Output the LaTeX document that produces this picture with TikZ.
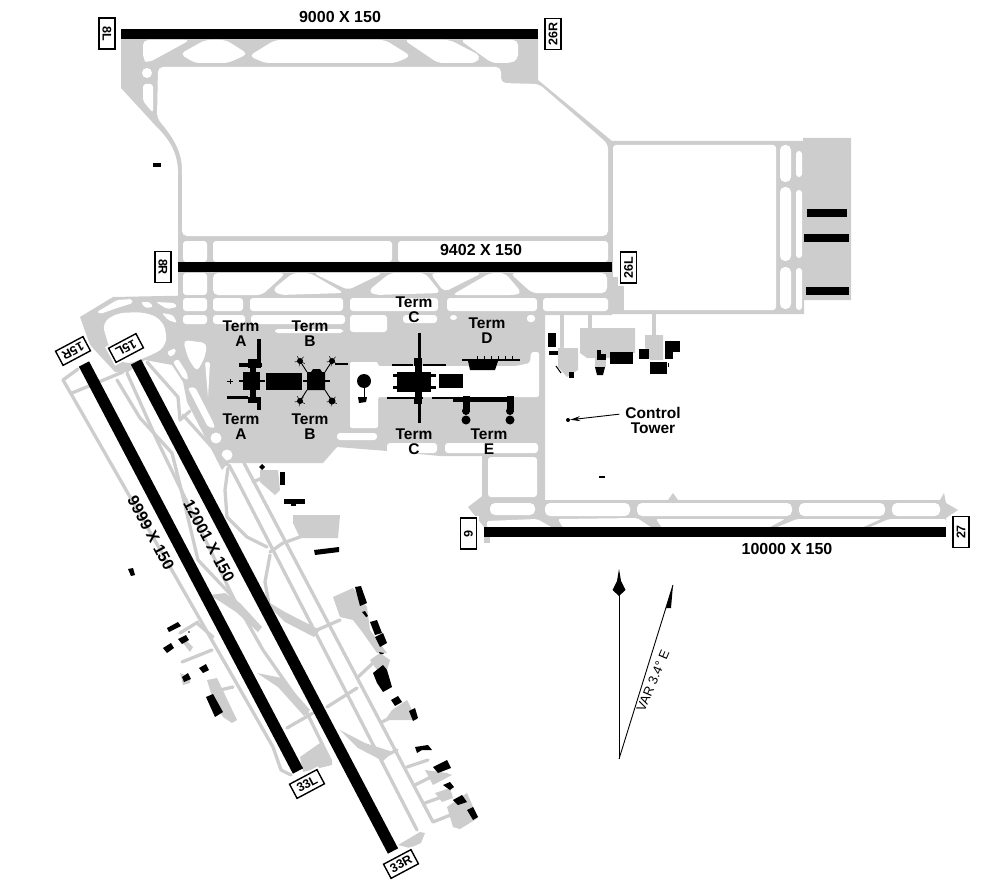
\documentclass[tikz,border=0pt]{standalone}
\usepackage{fontspec}
\usetikzlibrary{arrows.meta}
\setmainfont{Liberation Sans}
\definecolor{taxigray}{RGB}{205,205,205}
\tikzset{
  taxi/.style={fill=taxigray},
  taxiway/.style={draw=taxigray,line width=3.3pt,line join=round,line cap=round},
  hole/.style={fill=white,rounded corners=5pt},
  runway/.style={draw=black,line width=11.5pt},
  bldg/.style={fill=black},
  rwtag/.style={draw=black,fill=white,line width=1.4pt,inner sep=0pt,minimum width=31pt,minimum height=16pt,
    font=\fontsize{12.5}{12.5}\selectfont\bfseries,preaction={draw=white,line width=5pt}},
  rwlen/.style={font=\fontsize{16}{16}\selectfont\bfseries,inner sep=0pt},
  termlabel/.style={font=\fontsize{15.5}{15}\selectfont\bfseries,align=center,inner sep=0pt}
}
\begin{document}
\begin{tikzpicture}[x=1pt,y=-1pt]
\useasboundingbox (0,0) rectangle (993,896);

% north field
\fill[taxi] (121,39) -- (538,39) -- (538,80) -- (612,141) -- (612,315) -- (178,315) -- (178,170)
  .. controls (177,150) and (168,138) .. (155,125) -- (121,88) -- cycle;
\fill[white] (147,73) circle (5);
\fill[hole] (158,67) -- (501,67) -- (501,83) -- (539,84) -- (608,144) -- (608,236) -- (182,236) -- (182,170)
  .. controls (181,150) and (172,136) .. (157,118) -- cycle;
\fill[hole] (143,40) -- (190,40) -- (148,63) -- (143,60) -- cycle;
\fill[hole] (180,54) -- (205,40) -- (226,40) -- (248,54) -- (228,63) -- (195,63) -- cycle;
\fill[hole] (249,56) -- (275,40) -- (385,40) -- (411,56) -- (395,63) -- (265,63) -- cycle;
\fill[hole] (404,40) -- (450,40) -- (481,56) -- (476,63) -- (438,63) -- cycle;
\fill[hole] (460,40) -- (518,40) -- (518,60) -- (510,63) -- (492,63) -- cycle;
\fill[hole,rounded corners=3pt] (143,84) -- (153,84) -- (153,113) -- (143,101) -- cycle;

% rows round 8R-26L
\foreach \xa/\ya/\xb/\yb in {183/241/207/262, 213/241/392/262, 398/241/608/262, 183/273/207/295}
  \fill[hole,rounded corners=3pt] (\xa,\ya) rectangle (\xb,\yb);
\fill[hole] (213,273) -- (286,273) -- (262,295) -- (213,295) -- cycle;
\fill[hole] (272,290) -- (293,273) -- (310,273) -- (344,293) -- (280,295) -- cycle;
\fill[hole] (313,273) -- (383,273) -- (348,290) -- cycle;
\fill[hole] (368,291) -- (390,273) -- (425,273) -- (441,293) -- (375,295) -- cycle;
\fill[hole] (430,273) -- (482,273) -- (444,292) -- cycle;
\fill[hole] (452,295) -- (490,273) -- (505,273) -- (522,293) -- (515,295) -- cycle;
\fill[hole] (510,273) -- (607,273) -- (607,293) -- (532,293) -- cycle;

% central apron
\fill[taxi] (210,296) -- (545,296) -- (545,500) -- (482,500) -- (482,456) -- (440,456) -- (387,451) -- (337,447)
  -- (323,463) -- (226,463) -- (210,335) -- cycle;
\fill[hole,rounded corners=2pt] (350,362) -- (378,362) -- (378,366) -- (516,366) -- (530,363) -- (531,352) -- (539,352)
  -- (539,397) -- (378,397) -- (378,428) -- (350,428) -- cycle;
\foreach \xa/\ya/\xb/\yb in {337/433/377/440, 387/443/437/453, 445/443/538/453, 488/457/537/497}
  \fill[hole,rounded corners=3pt] (\xa,\ya) rectangle (\xb,\yb);

% east field
\fill[taxi] (612,141) -- (803,141) -- (803,138) -- (851,138) -- (851,300) -- (804,300) -- (804,314) -- (612,314) -- cycle;
\fill[hole,rounded corners=3pt] (613,145) rectangle (776,310);
\foreach \xa/\ya/\xb/\yb in {780/145/791/182, 780/187/791/261, 780/267/791/309}
  \fill[hole] (\xa,\ya) rectangle (\xb,\yb);
\foreach \xa/\ya/\xb/\yb in {796/151/802/177, 796/190/802/258, 796/268/802/310}
  \fill[hole,rounded corners=3pt] (\xa,\ya) rectangle (\xb,\yb);
\fill[taxi] (608,277) rectangle (624,312);

% runway 6-27 parallel
\fill[taxi] (468,507) -- (485,494) -- (490,500) -- (668,500) -- (673,493) -- (678,500) -- (940,500) -- (944,493) -- (946,503)
  -- (958,510) -- (946,518) -- (946,527) -- (484,527) -- cycle;
\foreach \xa/\ya/\xb/\yb in {490/503/535/515, 545/503/630/516, 637/503/792/516, 799/503/885/516, 892/503/940/516}
  \fill[hole] (\xa,\ya) rectangle (\xb,\yb);
\fill[hole,rounded corners=2pt] (487,521) -- (537,519) -- (553,528) -- (487,528) -- cycle;
\fill[hole,rounded corners=2pt] (558,519) -- (637,518) -- (652,528) -- (563,528) -- cycle;
\fill[hole,rounded corners=2pt] (656,519) -- (785,519) -- (768,528) -- (662,528) -- cycle;
\fill[hole,rounded corners=2pt] (775,528) -- (797,519) -- (881,519) -- (861,528) -- cycle;
\fill[hole,rounded corners=2pt] (868,528) -- (889,519) -- (946,519) -- (946,528) -- cycle;
\fill[taxi] (484,537) rectangle (490,543);

% north east stubs and aprons
\foreach \xa/\ya/\xb/\yb in {562/312/562/347, 590/312/590/328, 654/312/654/335}
  \draw[taxiway] (\xa,\ya) -- (\xb,\yb);
\fill[taxi] (580,328) -- (635,328) -- (635,353) -- (610,353) -- (610,358) -- (587,358) -- (580,353) -- cycle;
\fill[taxi] (645,335) -- (663,335) -- (663,360) -- (650,360) -- (645,347) -- cycle;
\fill[taxi] (558,348) -- (578,348) -- (578,370) -- (567,377) -- (558,367) -- cycle;
\fill[taxi] (595,358) rectangle (606,367);

% corner north of 15L
\fill[taxi] (80,317) -- (113,297) -- (215,295) -- (228,463) -- (222,470) -- (187,402) -- (183,382) -- (172,365)
  -- (145,360) -- (128,372) -- (115,372) -- (90,345) -- cycle;
\foreach \xa/\ya/\xb/\yb in {183/298/207/311, 213/298/243/311, 250/298/343/311, 350/298/438/311, 447/298/537/311, 543/298/608/311,
    183/315/207/324, 213/315/245/324, 251/315/345/324, 350/315/387/332, 403/315/437/323,
    450/315/457/320, 527/315/535/322, 275/329/343/333}
  \fill[hole,rounded corners=3pt] (\xa,\ya) rectangle (\xb,\yb);
\fill[hole,rounded corners=2pt] (97,312) -- (117,300) -- (132,299) -- (133,303) -- (117,308) -- (100,314) -- cycle;
\fill[hole,rounded corners=2pt] (141,302) -- (150,302) -- (153,307) -- (145,308) -- cycle;
\fill[hole,rounded corners=2pt] (156,302) -- (175,303) -- (177,307) -- (167,309) -- cycle;
\fill[hole,rounded corners=8pt] (102,323) -- (117,313) -- (143,312) -- (160,318) -- (167,332) -- (165,348) -- (147,357) -- (125,365) -- (110,350) -- cycle;
\fill[hole,rounded corners=2pt] (162,313) -- (173,315) -- (177,323) -- (168,320) -- cycle;
\fill[hole,rounded corners=2pt] (167,352) -- (175,348) -- (176,353) -- (170,357) -- cycle;
\fill[hole] (183,340) -- (207,343) -- (205,357) -- (197,372) -- (188,358) -- cycle;
\fill[hole,rounded corners=2pt] (173,362) -- (178,359) -- (187,373) -- (188,380) -- (183,378) -- cycle;
\fill[hole,rounded corners=2pt] (188,388) -- (195,387) -- (213,422) -- (215,428) -- (208,427) -- cycle;
\fill[hole,rounded corners=2pt] (205,362) -- (210,362) -- (208,398) -- (207,385) -- cycle;
\fill[white] (216,438) circle (5.5);
\fill[white] (227,455) circle (5.5);

% taxiways along the two long runways
\draw[taxiway] (63,380) -- (78,369);
\draw[taxiway] (63,380) -- (70,392) -- (273,747) -- (281,770) -- (291,775);
\draw[taxiway] (72,393) -- (123,372);
\draw[taxiway] (147,362) -- (178,397) -- (180,420) -- (190,411);
\draw[taxiway] (183,415) -- (228,465);
\draw[taxiway] (127,373) -- (157,440) -- (233,597) -- (263,650) -- (307,713) -- (330,760);
\draw[taxiway] (117,380) -- (140,418) -- (172,453) -- (183,497) -- (198,560) -- (233,597);
\draw[taxiway] (237,480) -- (417,830);
\draw[taxiway] (253,480) -- (433,822) -- (453,814);
\draw[taxiway] (229,465) -- (237,480);
\draw[taxiway] (244,463) -- (253,480);
\draw[taxiway] (228,468) -- (225,490) -- (227,517) -- (247,537) -- (267,547);
\draw[taxiway] (270,552) -- (283,543) -- (300,537);
\draw[taxiway] (270,555) -- (265,582) -- (270,610);
\foreach \xa/\ya/\xb/\yb in {317/630/340/620, 327/707/357/688, 357/678/373/663, 383/757/397/750, 382/722/400/713,
    407/767/428/760, 415/785/435/775, 425/803/447/795, 287/728/313/713, 182/662/212/650, 180/633/198/622,
    197/623/213/637, 220/690/233/687, 253/482/262/478}
  \draw[taxiway] (\xa,\ya) -- (\xb,\yb);

% exits and small aprons on the diagonal
\fill[taxi] (225,593) -- (240,603) -- (262,627) -- (258,632) -- (236,612) -- (210,595) -- cycle;
\fill[taxi] (257,673) -- (282,678) -- (310,710) -- (304,716) -- (278,687) -- cycle;
\fill[taxi] (260,597) -- (285,612) -- (320,630) -- (314,637) -- (285,622) -- cycle;
\fill[taxi] (340,730) -- (365,743) -- (393,752) -- (383,761) -- (358,748) -- cycle;
\fill[taxi] (300,757) -- (320,743) -- (332,760) -- (332,765) -- (303,772) -- cycle;
\fill[taxi] (398,845) -- (420,832) -- (425,833) -- (421,843) -- (410,848) -- cycle;
\fill[taxi] (293,515) -- (340,515) -- (338,538) -- (300,538) -- (293,523) -- cycle;
\fill[taxi] (260,470) -- (278,470) -- (280,490) -- (275,495) -- (260,482) -- cycle;
\fill[taxi] (333,597) -- (353,588) -- (367,607) -- (370,630) -- (387,653) -- (377,653) -- (363,633) -- (353,620) -- (340,617) -- cycle;
\fill[taxi] (370,660) -- (380,653) -- (390,660) -- (387,670) -- (377,670) -- cycle;
\fill[taxi] (392,710) -- (407,700) -- (417,720) -- (407,720) -- (385,720) -- cycle;
\fill[taxi] (425,770) -- (447,773) -- (452,775) -- (433,785) -- cycle;
\fill[taxi] (435,793) -- (450,788) -- (453,798) -- (442,802) -- cycle;
\fill[taxi] (447,807) -- (467,793) -- (478,818) -- (460,829) -- (453,827) -- cycle;
\fill[taxi] (207,680) -- (217,678) -- (237,720) -- (232,723) -- (223,717) -- (213,700) -- cycle;
\fill[taxi] (180,673) -- (190,677) -- (190,683) -- (183,685) -- cycle;
\fill[taxi] (183,637) -- (193,647) -- (190,652) -- (183,643) -- cycle;

% runways
\fill[bldg] (121,29) rectangle (538,39);
\fill[bldg] (178,262) rectangle (612,272);
\fill[bldg] (484,527) rectangle (946,537);
\draw[runway] (84,364) -- (298,771);
\draw[runway] (136,362) -- (393,851);

% terminals and other buildings
\foreach \xa/\ya/\xb/\yb in {257/339/261/368, 239/363/262/367, 248/359/257/368, 250/367/256/372, 243/372/260/390, 239/380/243/382,
    260/380/265/382, 250/390/256/397, 227/396/248/399, 248/397/261/403, 257/403/261/410, 230/379/231/384, 227/381/233/382,
    266/373/302/390, 303/380/307/382, 325/380/330/382, 335/363/348/365,
    418/333/421/367, 414/358/422/366, 392/364/413/366, 423/364/446/366, 415/366/422/372, 397/372/431/392,
    393/374/397/377, 393/386/397/389, 431/374/436/377, 431/386/436/389, 439/374/463/388,
    387/397/423/399, 415/392/422/397, 414/397/422/404, 418/404/421/423,
    462/359/520/361, 432/397/453/399, 453/397/513/402, 463/396/470/412, 507/396/514/412,
    548/333/556/347, 549/351/558/355, 569/372/574/378, 597/350/601/360, 597/354/606/360,
    610/352/633/364, 639/349/649/359, 665/341/680/352, 665/352/673/359, 650/362/667/374, 668/363/669/367,
    807/209/847/217, 804/234/849/242, 806/287/849/295, 153/163/161/167, 599/476/605/478,
    280/472/285/485, 284/499/305/504, 291/504/296/506}
  \fill[bldg] (\xa,\ya) rectangle (\xb,\yb);
\foreach \xc/\yc/\rc in {300/361/3, 332/361/3, 300/401/3, 332/401/3.5, 364/381/7, 466/411/4, 466/420/4.5, 510/411/4, 510/420/4.5}
  \fill[bldg] (\xc,\yc) circle (\rc);
\foreach \xa/\ya/\xb/\yb in {307/372/300/361, 325/372/332/361, 307/390/300/401, 325/390/332/401, 364/388/364/397}
  \draw[black,line width=0.9pt] (\xa,\ya) -- (\xb,\yb);
\foreach \xc/\yc in {300/361, 332/361, 300/401, 332/401}
  \foreach \ang in {30,100,170,240,310}
    \draw[black,line width=0.5pt] (\xc,\yc) -- ++(\ang:5.5);
\fill[bldg] (307,372) -- (311,372) -- (313,369) -- (320,369) -- (322,372) -- (325,372) -- (325,390) -- (307,390) -- cycle;
\fill[bldg] (358,397) -- (367,397) -- (366,402) -- (359,403) -- cycle;
\fill[bldg] (468,361) -- (498,361) -- (495,370) -- (470,370) -- cycle;
\foreach \xt in {477,484,491,498,505,512}
  \draw[black,line width=0.8pt] (\xt,356) -- (\xt,360);
\draw[black,line width=1pt] (556,366) -- (561,373);
\fill[bldg] (595,367) -- (605,367) -- (603,375) -- (597,375) -- cycle;

% buildings along the diagonal
\fill[bldg] (262,464) -- (265,467) -- (262,470) -- (259,467) -- cycle;
\fill[bldg] (314,550) -- (339,547) -- (339,552) -- (315,555) -- cycle;
\fill[bldg] (128,569) -- (133,568) -- (135,575) -- (131,576) -- cycle;
\fill[bldg] (355,587) -- (361,586) -- (367,603) -- (360,606) -- cycle;
\fill[bldg] (362,612) -- (365,611) -- (368,616) -- (366,617) -- cycle;
\fill[bldg] (370,622) -- (377,620) -- (382,633) -- (375,635) -- cycle;
\fill[bldg] (375,637) -- (383,633) -- (387,643) -- (380,647) -- cycle;
\fill[bldg] (379,652) -- (384,653) -- (383,654) -- (380,654) -- cycle;
\fill[bldg] (373,673) -- (383,665) -- (387,670) -- (392,687) -- (383,692) -- (377,683) -- cycle;
\fill[bldg] (391,700) -- (398,696) -- (402,702) -- (395,706) -- cycle;
\fill[bldg] (409,711) -- (415,708) -- (418,718) -- (413,721) -- cycle;
\fill[bldg] (415,747) -- (428,745) -- (432,750) -- (422,750) -- (417,753) -- cycle;
\fill[bldg] (433,767) -- (447,760) -- (451,768) -- (438,773) -- cycle;
\fill[bldg] (443,785) -- (450,782) -- (454,787) -- (450,790) -- cycle;
\fill[bldg] (453,800) -- (462,795) -- (467,802) -- (458,805) -- cycle;
\fill[bldg] (467,810) -- (473,807) -- (478,817) -- (473,820) -- cycle;
\fill[bldg] (167,628) -- (178,622) -- (181,626) -- (169,632) -- cycle;
\fill[bldg] (178,639) -- (186,635) -- (189,640) -- (182,644) -- cycle;
\fill[bldg] (163,648) -- (171,643) -- (174,648) -- (167,653) -- cycle;
\fill[bldg] (199,668) -- (206,664) -- (209,670) -- (203,673) -- cycle;
\fill[bldg] (182,677) -- (188,673) -- (191,679) -- (184,682) -- cycle;
\fill[bldg] (206,697) -- (213,694) -- (223,712) -- (215,717) -- cycle;
\fill[bldg] (189,632) circle (0.9);

% runway numbers
\node[rwtag,rotate=-90] (rwEightL) at (107,33.5) {8L};
\node[rwtag,rotate=90] (rwTwentySixR) at (553,34) {26R};
\node[rwtag,rotate=-90] (rwEightR) at (163,267) {8R};
\node[rwtag,rotate=90] (rwTwentySixL) at (628.5,267.5) {26L};
\node[rwtag,rotate=-90] (rwSix) at (468.5,533.5) {6};
\node[rwtag,rotate=90] (rwTwentySeven) at (961,532) {27};
\node[rwtag,rotate=208] (rwFifteenR) at (73,351) {15R};
\node[rwtag,rotate=208] (rwFifteenL) at (126,348) {15L};
\node[rwtag,rotate=28] (rwThirtyThreeL) at (307,784) {33L};
\node[rwtag,rotate=28] (rwThirtyThreeR) at (401,864) {33R};

% runway sizes
\node[rwlen] (lenNorth) at (340,17) {9000 X 150};
\node[rwlen] (lenMiddle) at (481,250) {9402 X 150};
\node[rwlen] (lenSouth) at (787,549) {10000 X 150};
\node[rwlen,rotate=-62] (lenWest) at (151,533) {9999 X 150};
\node[rwlen,rotate=-62] (lenEast) at (209,541) {12001 X 150};

% terminal names
\node[termlabel] (termAup) at (241,334) {Term\\A};
\node[termlabel] (termBup) at (310,334) {Term\\B};
\node[termlabel] (termAdown) at (241,427) {Term\\A};
\node[termlabel] (termBdown) at (310,427) {Term\\B};
\node[termlabel] (termCup) at (414,310) {Term\\C};
\node[termlabel] (termCdown) at (414,442) {Term\\C};
\node[termlabel] (termD) at (487,331) {Term\\D};
\node[termlabel] (termE) at (489,442) {Term\\E};

% control tower
\node[fill=black,circle,inner sep=0pt,minimum size=4pt] (towerdot) at (568,420) {};
\node[termlabel] (towerlabel) at (653,420) {Control\\Tower};
\draw[-{Stealth[length=10pt,width=5pt]},line width=0.9pt,shorten <=6pt] (towerlabel.west |- 0,413.5) -- (towerdot);

% north and variation arrows
\coordinate (arrowbase) at (619,759);
\coordinate (northtip) at (619,590);
\coordinate (vartip) at (673,585);
\draw[line width=1pt] (arrowbase) -- (northtip);
\draw[line width=0.9pt] (arrowbase) -- (vartip);
\fill[bldg] (619,569) -- (621,581) -- (625.5,590) -- (619,596) -- (612.5,590) -- (617,581) -- cycle;
\fill[bldg] (vartip) -- (671,608) -- (666,608) -- cycle;
\node[rotate=67,font=\fontsize{13}{13}\selectfont,inner sep=0pt] (varlabel) at (653,681) {VAR 3.4° E};
\end{tikzpicture}
\end{document}
